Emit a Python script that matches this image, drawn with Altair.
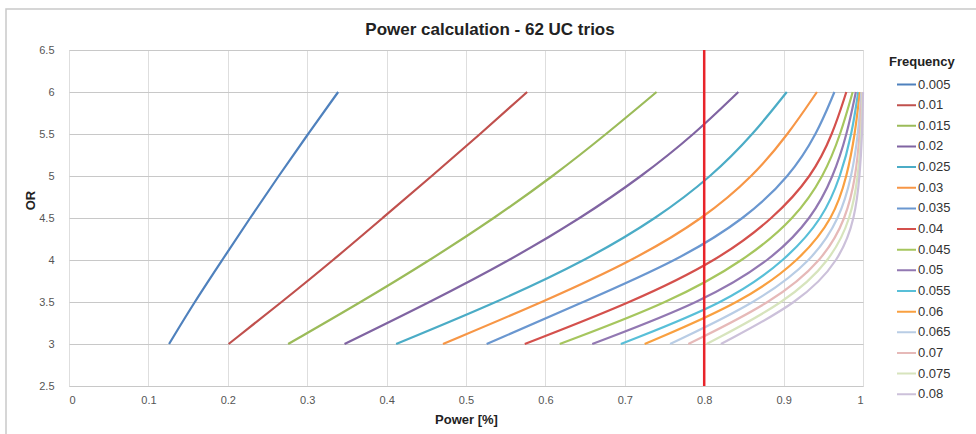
import altair as alt
import pandas as pd

# Odds ratios at which power was evaluated
or_levels = [3.0, 3.5, 4.0, 4.5, 5.0, 5.5, 6.0]

# Allele frequencies (legend order)
freqs = ["0.005", "0.01", "0.015", "0.02", "0.025", "0.03", "0.035", "0.04",
         "0.045", "0.05", "0.055", "0.06", "0.065", "0.07", "0.075", "0.08"]

# Power at each odds ratio, one list per frequency
power_0005 = [0.126, 0.158, 0.193, 0.228, 0.264, 0.301, 0.339]
power_0010 = [0.201, 0.268, 0.333, 0.395, 0.457, 0.518, 0.577]
power_0015 = [0.276, 0.368, 0.455, 0.536, 0.610, 0.677, 0.740]
power_0020 = [0.347, 0.455, 0.556, 0.645, 0.722, 0.788, 0.843]
power_0025 = [0.412, 0.540, 0.652, 0.741, 0.810, 0.862, 0.904]
power_0030 = [0.471, 0.597, 0.712, 0.800, 0.862, 0.906, 0.942]
power_0035 = [0.526, 0.648, 0.768, 0.853, 0.908, 0.942, 0.964]
power_0040 = [0.574, 0.710, 0.818, 0.888, 0.936, 0.962, 0.979]
power_0045 = [0.618, 0.758, 0.852, 0.915, 0.951, 0.972, 0.987]
power_0050 = [0.659, 0.798, 0.885, 0.936, 0.963, 0.980, 0.991]
power_0055 = [0.695, 0.830, 0.903, 0.950, 0.972, 0.986, 0.994]
power_0060 = [0.725, 0.849, 0.921, 0.963, 0.980, 0.990, 0.996]
power_0065 = [0.757, 0.868, 0.937, 0.971, 0.986, 0.994, 0.998]
power_0070 = [0.780, 0.887, 0.950, 0.979, 0.991, 0.996, 0.999]
power_0075 = [0.803, 0.904, 0.960, 0.985, 0.994, 0.998, 0.9995]
power_0080 = [0.821, 0.921, 0.971, 0.990, 0.996, 0.999, 1.000]

power_series = [power_0005, power_0010, power_0015, power_0020, power_0025,
                power_0030, power_0035, power_0040, power_0045, power_0050,
                power_0055, power_0060, power_0065, power_0070, power_0075,
                power_0080]

colors = ["#4F81BD", "#C0504D", "#9BBB59", "#8064A2", "#4BACC6", "#F79646",
          "#6A97D0", "#D4504C", "#A6C65E", "#9278B2", "#58BFD8", "#F9A040",
          "#B9CDE5", "#E6B9B8", "#D7E4BD", "#CCC1DA"]

target_power = [0.8]

x_grid = [round(i * 0.05, 2) for i in range(21)]
y_grid = [2.5 + 0.5 * i for i in range(9)]

rows = []
for f, series in zip(freqs, power_series):
    for i, (o, p) in enumerate(zip(or_levels, series)):
        rows.append({"Frequency": f, "OR": o, "Power": p, "step": i})
df = pd.DataFrame(rows)

FONT = "Liberation Sans"

x_enc = alt.X(
    "Power:Q",
    scale=alt.Scale(domain=[0, 1], nice=False, zero=False),
    axis=alt.Axis(
        title="Power [%]", values=x_grid,
        labelExpr="(round(datum.value * 100) % 10 == 0) ? format(datum.value, '~g') : ''",
        grid=True, gridColor="#dedede", gridWidth=1,
        domain=False, ticks=False, labelPadding=8,
        labelFontSize=11, labelColor="#555555", labelFont=FONT,
        titleFontSize=13, titleFontWeight="bold", titleColor="#222222",
        titleFont=FONT, titlePadding=8,
    ),
)
y_enc = alt.Y(
    "OR:Q",
    scale=alt.Scale(domain=[2.5, 6.5], nice=False, zero=False),
    axis=alt.Axis(
        title="OR", values=y_grid, format="~g",
        grid=True, gridColor="#c8c8c8", gridWidth=1.2,
        domain=False, ticks=False, labelPadding=15,
        labelFontSize=11, labelColor="#555555", labelFont=FONT,
        titleFontSize=13, titleFontWeight="bold", titleColor="#222222",
        titleFont=FONT, titleX=-32, titleY=150,
    ),
)

lines = alt.Chart(df).mark_line(strokeWidth=2.2, interpolate="basis").encode(
    x=x_enc,
    y=y_enc,
    order=alt.Order("step:Q"),
    color=alt.Color(
        "Frequency:N",
        sort=freqs,
        scale=alt.Scale(domain=freqs, range=colors),
        legend=alt.Legend(
            title="Frequency", orient="none", legendX=820, legendY=6,
            titleFont=FONT, titleFontSize=13, titleFontWeight="bold",
            titleColor="#222222", titlePadding=8,
            labelFont=FONT, labelFontSize=13, labelColor="#333333",
            symbolType="stroke", symbolStrokeWidth=2, symbolSize=361,
            symbolOffset=7, labelOffset=1, padding=0,
            clipHeight=15, rowPadding=5.65,
        ),
    ),
)

target = alt.Chart(pd.DataFrame({"Power": target_power})).mark_rule(
    color="#E8242A", strokeWidth=2.5
).encode(x="Power:Q")

frame = alt.Chart(pd.DataFrame({"k": [0]})).mark_rect(
    fill=None, stroke="#c9c9c9", strokeWidth=1.5
).encode(
    x=alt.value(-63), x2=alt.value(930),
    y=alt.value(-41), y2=alt.value(400),
)

chart = alt.layer(frame, lines, target).properties(
    width=794, height=336,
    title=alt.TitleParams(
        "Power calculation - 62 UC trios", font=FONT, fontSize=17,
        fontWeight="bold", color="#222222", anchor="middle", dx=24,
        offset=14, dy=45,
    ),
    autosize=alt.AutoSizeParams(type="none"),
    padding={"left": 69, "top": 50, "right": 113, "bottom": 48},
).configure_view(stroke="#c0c0c0", strokeWidth=1.2).configure(background="white")

chart.save("out.html", embed_options={"renderer": "svg", "actions": False})
